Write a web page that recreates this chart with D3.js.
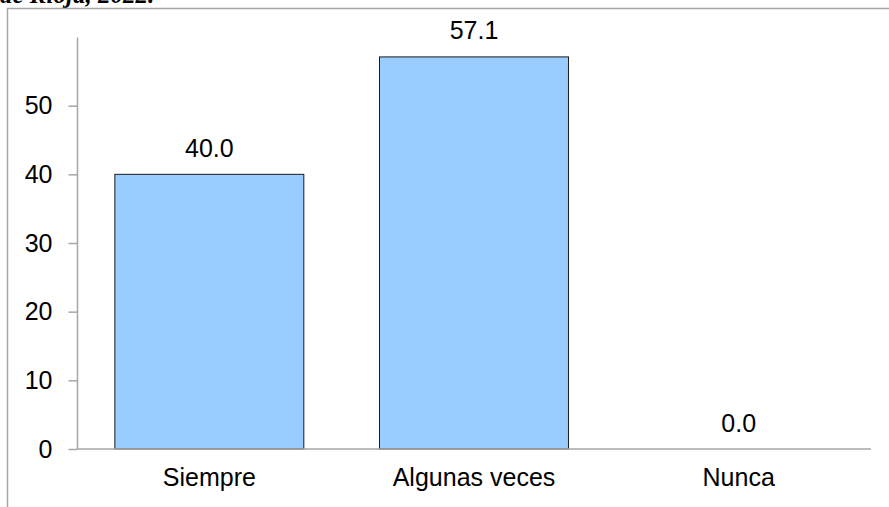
<!DOCTYPE html>
<html>
<head>
<meta charset="utf-8">
<script src="https://cdn.jsdelivr.net/npm/d3@7"></script>
<style>
  html, body { margin: 0; padding: 0; background: #fff; }
  svg { display: block; }
</style>
</head>
<body>
<svg id="chart" width="889" height="507"></svg>
<script>
// Survey response shares (%)
const categories = ["Siempre", "Algunas veces", "Nunca"];
const values = [40.0, 57.1, 0.0];
const yTicks = [0, 10, 20, 30, 40, 50];
const titleTail = "de Rioja, 2022.";

const svg = d3.select("#chart");
const W = 889, H = 507;
const plotLeft = 77, plotRight = 871, plotTop = 37, plotBottom = 449;
const axisGray = "#a6a6a6";
const font = "'Liberation Sans', Arial, sans-serif";

// Caption text clipped at the top edge
svg.append("text")
  .attr("x", 0).attr("y", 3)
  .attr("font-family", "'Liberation Serif', 'Times New Roman', serif")
  .attr("font-weight", "bold").attr("font-style", "italic")
  .attr("font-size", 25).attr("fill", "#000")
  .text(titleTail);

// Chart frame (top and left edges)
svg.append("path")
  .attr("d", `M7.5,${H} L7.5,8.5 L${W},8.5`)
  .attr("fill", "none").attr("stroke", axisGray).attr("stroke-width", 1.5);

const x = d3.scaleBand()
  .domain(categories)
  .range([plotLeft, plotRight])
  .paddingInner(0.286)
  .paddingOuter(0.143);

const y = d3.scaleLinear().domain([0, 60]).range([plotBottom, plotTop]);

// Y axis
const yAxis = svg.append("g")
  .attr("transform", `translate(${plotLeft},0)`)
  .call(d3.axisLeft(y).tickValues(yTicks).tickFormat(d3.format("d"))
    .tickSize(8.5).tickSizeOuter(0).tickPadding(16));
yAxis.select(".domain").attr("stroke", axisGray).attr("stroke-width", 1.5);
yAxis.selectAll(".tick line").attr("stroke", axisGray).attr("stroke-width", 1.5);
yAxis.selectAll(".tick text")
  .attr("font-family", font).attr("font-size", 25).attr("fill", "#000")
  .attr("dy", "0.33em");

// Bars
svg.append("g").selectAll("rect")
  .data(values)
  .join("rect")
  .attr("x", (d, i) => x(categories[i]))
  .attr("y", d => y(d))
  .attr("width", x.bandwidth())
  .attr("height", d => y(0) - y(d))
  .attr("fill", "#99ccff")
  .attr("stroke", d => d > 0 ? "#1a1a1a" : "none")
  .attr("stroke-width", 1);

// X axis baseline
svg.append("line")
  .attr("x1", plotLeft).attr("x2", plotRight)
  .attr("y1", y(0)).attr("y2", y(0))
  .attr("stroke", axisGray).attr("stroke-width", 1.5);

// Value labels
svg.append("g").selectAll("text")
  .data(values)
  .join("text")
  .attr("x", (d, i) => x(categories[i]) + x.bandwidth() / 2)
  .attr("y", d => y(d) - 17.5)
  .attr("text-anchor", "middle")
  .attr("font-family", font).attr("font-size", 25).attr("fill", "#000")
  .text(d => d.toFixed(1));

// Category labels
svg.append("g").selectAll("text")
  .data(categories)
  .join("text")
  .attr("x", d => x(d) + x.bandwidth() / 2)
  .attr("y", 486)
  .attr("text-anchor", "middle")
  .attr("font-family", font).attr("font-size", 25).attr("fill", "#000")
  .text(d => d);
</script>
</body>
</html>
